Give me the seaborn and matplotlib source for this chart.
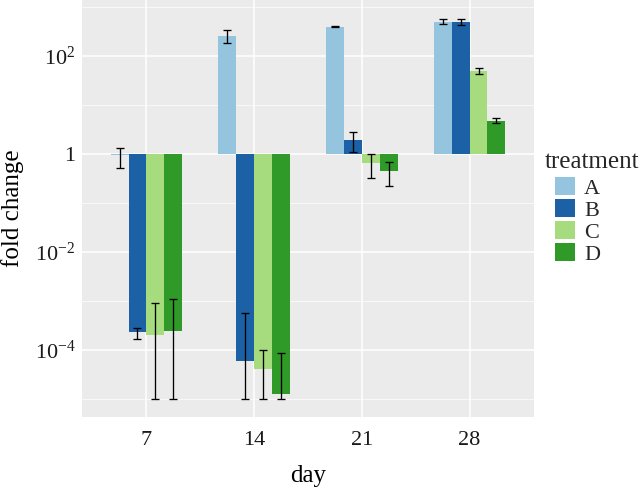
import numpy as np
import pandas as pd
import seaborn as sns
import matplotlib.pyplot as plt
from matplotlib.patches import Patch

days = ["7", "14", "21", "28"]
treatments = ["A", "B", "C", "D"]

# log10(fold change), one list per treatment (days 7, 14, 21, 28)
log10_fc = {
    "A": [-0.02, 2.41, 2.59, 2.70],
    "B": [-3.64, -4.22, 0.28, 2.69],
    "C": [-3.69, -4.39, -0.18, 1.69],
    "D": [-3.61, -4.90, -0.34, 0.68],
}
err_low = {
    "A": [-0.28, 2.27, 2.58, 2.66],
    "B": [-3.77, -5.00, 0.03, 2.63],
    "C": [-5.00, -5.00, -0.50, 1.63],
    "D": [-5.00, -5.00, -0.66, 0.63],
}
err_high = {
    "A": [0.13, 2.53, 2.60, 2.76],
    "B": [-3.54, -3.24, 0.44, 2.75],
    "C": [-3.03, -3.99, 0.00, 1.75],
    "D": [-2.96, -4.05, -0.16, 0.73],
}

colors = ["#95C4DF", "#1C61A5", "#A6DB7E", "#2F9A28"]

rows = []
for t in treatments:
    for i, d in enumerate(days):
        rows.append([d, t, log10_fc[t][i]])
df = pd.DataFrame(rows, columns=["day", "treatment", "log10_fc"])

sns.set_style("darkgrid", {"axes.facecolor": "#EBEBEB", "grid.color": "white"})
plt.rcParams["font.family"] = ["Liberation Serif", "DejaVu Serif"]
plt.rcParams["mathtext.fontset"] = "custom"
plt.rcParams["mathtext.rm"] = "Liberation Serif"
plt.rcParams["mathtext.it"] = "Liberation Serif:italic"

fig = plt.figure(figsize=(6.39, 4.88), dpi=100)
ax = fig.add_axes([0.128, 0.146, 0.708, 0.854])

sns.barplot(data=df, x="day", y="log10_fc", hue="treatment", order=days,
            hue_order=treatments, palette=colors, width=0.663, saturation=1,
            errorbar=None, linewidth=0, legend=False, ax=ax)

for t, cont in zip(treatments, ax.containers):
    xs = [b.get_x() + b.get_width() / 2 for b in cont]
    mid = np.array(log10_fc[t])
    lo = mid - np.array(err_low[t])
    hi = np.array(err_high[t]) - mid
    ax.errorbar(xs, mid, yerr=[lo, hi], fmt="none", ecolor="black",
                elinewidth=0.95, capsize=3, capthick=0.95, zorder=3)

ax.set_xlim(-0.6, 3.6)
ax.set_ylim(-5.36, 3.14)
ax.set_yticks([2, 0, -2, -4])
ax.set_yticklabels(["$10^{2}$", "1", "$10^{-2}$", "$10^{-4}$"])
ax.set_yticks([3, 1, -1, -3, -5], minor=True)
ax.grid(which="major", color="white", linewidth=1.1)
ax.grid(which="minor", axis="y", color="white", linewidth=0.5)
ax.set_axisbelow(True)
for s in ax.spines.values():
    s.set_visible(False)

ax.tick_params(which="major", length=2.5, width=0.8, color="#333333",
               labelsize=16, labelcolor="#1a1a1a", pad=2)
ax.tick_params(axis="x", pad=7.5)
ax.tick_params(which="minor", length=0)
ax.set_xlabel("day", fontsize=18, color="black", labelpad=11)
ax.set_ylabel("fold change", fontsize=18, color="black")
ax.yaxis.set_label_coords(-0.127, 0.5)

handles = [Patch(facecolor=c, edgecolor="none") for c in colors]
fig.legend(handles, treatments, loc="upper left",
           bbox_to_anchor=(555 / 639, 1 - 177 / 488), frameon=False,
           fontsize=16, handlelength=0.9, handleheight=0.9, labelspacing=0,
           handletextpad=0.4, borderpad=0, borderaxespad=0)
fig.text(545 / 639, 1 - 168.5 / 488, "treatment", fontsize=18,
         ha="left", va="baseline")

fig.savefig("out.png", dpi=100)
